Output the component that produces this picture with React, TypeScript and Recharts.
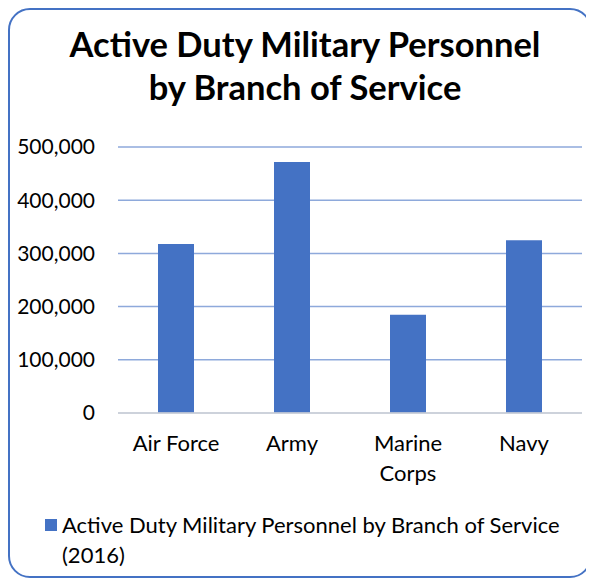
import { BarChart, Bar, XAxis, YAxis, CartesianGrid, Legend } from "recharts";

const branches = ["Air Force", "Army", "Marine Corps", "Navy"];
const branchLabelLines = [["Air Force"], ["Army"], ["Marine", "Corps"], ["Navy"]];
const personnel = [317883, 471990, 184514, 324615];
const yTicks = [0, 100000, 200000, 300000, 400000, 500000];
const seriesName = "Active Duty Military Personnel by Branch of Service (2016)";
const titleLines = ["Active Duty Military Personnel", "by Branch of Service"];

const data = branches.map((b, i) => ({ branch: b, value: personnel[i] }));

const FONT = "Lato, 'Open Sans', sans-serif";
const BLUE = "#4472C4";

const CategoryTick = (props: any) => {
  const { x, y, payload } = props;
  const idx = branches.indexOf(payload.value);
  const lines = branchLabelLines[idx] || [payload.value];
  return (
    <text
      x={x}
      y={y}
      textAnchor="middle"
      fontSize={22}
      fill="#000"
      fontFamily={FONT}
    >
      {lines.map((l: string, i: number) => (
        <tspan key={l} x={x} dy={i === 0 ? "0.71em" : 30}>
          {l}
        </tspan>
      ))}
    </text>
  );
};

const LegendBox = () => (
  <div style={{ display: "flex", alignItems: "flex-start", fontFamily: FONT, height: 60 }}>
    <div
      style={{
        width: 12,
        height: 12,
        background: BLUE,
        marginTop: 9,
        marginRight: 5,
        flexShrink: 0,
      }}
    />
    <div style={{ fontSize: 22, lineHeight: "30px", color: "#000", width: 510 }}>
      {seriesName}
    </div>
  </div>
);

export default function App() {
  return (
    <div
      style={{
        position: "relative",
        width: 584,
        height: 570,
        border: `2px solid ${BLUE}`,
        borderRadius: 22,
        boxSizing: "border-box",
        background: "#fff",
      }}
    >
      <div
        style={{
          position: "absolute",
          left: 0,
          top: 12,
          width: 590,
          textAlign: "center",
          fontFamily: FONT,
          fontWeight: 700,
          fontSize: 34.5,
          lineHeight: "43px",
          color: "#000",
        }}
      >
        {titleLines.map((t) => (
          <div key={t}>{t}</div>
        ))}
      </div>
      <div style={{ position: "absolute", left: 0, top: 0 }}>
        <BarChart
          width={580}
          height={566}
          data={data}
          margin={{ top: 137, right: 8, bottom: 6, left: 0 }}
          barCategoryGap={40}
        >
          <CartesianGrid vertical={false} stroke="#8EA9DB" strokeWidth={1.5} />
          <XAxis
            dataKey="branch"
            height={97}
            axisLine={{ stroke: "#D9D9D9", strokeWidth: 1.5 }}
            tickLine={false}
            tickSize={0}
            tickMargin={22}
            tick={<CategoryTick />}
            interval={0}
          />
          <YAxis
            width={108}
            domain={[0, 500000]}
            ticks={yTicks}
            axisLine={false}
            tickLine={false}
            tickSize={0}
            tickMargin={23}
            tick={{ fontSize: 21, fill: "#000", fontFamily: FONT }}
            tickFormatter={(v: number) => v.toLocaleString("en-US")}
          />
          <Legend
            verticalAlign="bottom"
            content={<LegendBox />}
            wrapperStyle={{ left: 35, width: 540 }}
          />
          <Bar
            dataKey="value"
            name={seriesName}
            fill={BLUE}
            barSize={36}
            isAnimationActive={false}
          />
        </BarChart>
      </div>
    </div>
  );
}
